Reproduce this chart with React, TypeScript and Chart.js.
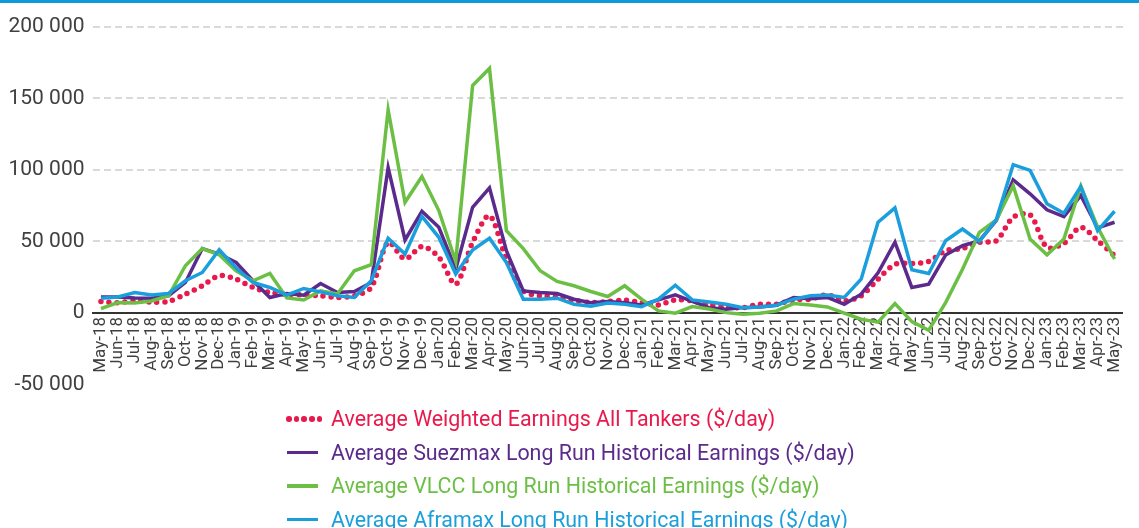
import React, { useEffect, useRef } from "react";
import { Chart, registerables } from "chart.js";

Chart.register(...registerables);

const months = [
  "May-18", "Jun-18", "Jul-18", "Aug-18", "Sep-18", "Oct-18", "Nov-18", "Dec-18",
  "Jan-19", "Feb-19", "Mar-19", "Apr-19", "May-19", "Jun-19", "Jul-19", "Aug-19", "Sep-19", "Oct-19", "Nov-19", "Dec-19",
  "Jan-20", "Feb-20", "Mar-20", "Apr-20", "May-20", "Jun-20", "Jul-20", "Aug-20", "Sep-20", "Oct-20", "Nov-20", "Dec-20",
  "Jan-21", "Feb-21", "Mar-21", "Apr-21", "May-21", "Jun-21", "Jul-21", "Aug-21", "Sep-21", "Oct-21", "Nov-21", "Dec-21",
  "Jan-22", "Feb-22", "Mar-22", "Apr-22", "May-22", "Jun-22", "Jul-22", "Aug-22", "Sep-22", "Oct-22", "Nov-22", "Dec-22",
  "Jan-23", "Feb-23", "Mar-23", "Apr-23", "May-23",
];

const weightedAll = [
  8000, 7200, 8400, 7600, 8000, 13100, 19000, 26000,
  23600, 17800, 14300, 13000, 12600, 12000, 10800, 12000, 17800, 49400, 37700, 46500,
  39000, 20100, 49400, 68000, 37700, 15400, 12000, 11200, 8900, 7200, 8000, 8900,
  7200, 5600, 9100, 8400, 5600, 4200, 3700, 6100, 6100, 9100, 9600, 12600,
  8400, 12000, 23600, 34000, 34600, 36000, 43500, 45100, 49400, 50500, 66900, 68600,
  45800, 48700, 59900, 50500, 40000,
];

const suezmax = [
  11200, 11200, 10500, 10300, 12000, 21300, 45000, 41200,
  35300, 22500, 10800, 13500, 12400, 20600, 14300, 15000, 21300, 101600, 51000, 71100,
  59900, 30600, 73900, 87500, 43500, 15400, 14300, 13600, 9600, 7200, 8000, 7200,
  5600, 9100, 12600, 8000, 3700, 2600, 3700, 4200, 5400, 10800, 10000, 10800,
  6100, 13100, 28000, 49500, 17800, 20100, 40500, 47000, 50500, 64600, 93100, 83300,
  72100, 67400, 82100, 59500, 63400,
];

const vlcc = [
  3000, 7200, 7000, 8400, 12000, 33000, 45000, 40700,
  29500, 22500, 27600, 10500, 9000, 15400, 13300, 29500, 33700, 142000, 77400, 95400,
  71600, 36000, 159000, 171000, 57500, 45000, 29500, 22000, 19000, 15000, 11500, 19000,
  9600, 1400, -200, 4400, 2800, 200, -900, -200, 1400, 6500, 5600, 4200,
  -200, -4400, -6500, 6500, -6100, -12100, 7200, 30600, 56400, 65000, 89000, 51700,
  40700, 51700, 88700, 59900, 37700,
];

const aframax = [
  10300, 11200, 14300, 12600, 13600, 22500, 28300, 44200,
  31400, 21300, 17800, 12400, 17100, 14700, 12000, 10800, 22500, 52200, 41200, 67600,
  52900, 27200, 44000, 52200, 35300, 9600, 9600, 10300, 6100, 4700, 7000, 6100,
  4400, 9600, 19400, 9100, 7700, 6100, 3700, 4200, 5400, 9600, 12000, 12600,
  10800, 23600, 63400, 73500, 30200, 27600, 50500, 58700, 50000, 65300, 103700, 99700,
  76300, 69700, 88400, 57600, 71100,
];

const yMin = -50000;
const yMax = 200000;
const yStep = 50000;

const RED = "#e9194b";
const PURPLE = "#5b2a8c";
const GREEN = "#6cbf45";
const BLUE = "#1b9fdc";

const legendItems = [
  { label: "Average Weighted Earnings All Tankers ($/day)", color: RED, dotted: true },
  { label: "Average Suezmax Long Run Historical Earnings ($/day)", color: PURPLE, dotted: false },
  { label: "Average VLCC Long Run Historical Earnings ($/day)", color: GREEN, dotted: false },
  { label: "Average Aframax Long Run Historical Earnings ($/day)", color: BLUE, dotted: false },
];

function fmt(v: number): string {
  const s = Math.abs(v).toString().replace(/\B(?=(\d{3})+(?!\d))/g, " ");
  return (v < 0 ? "-" : "") + s;
}

export default function App() {
  const ref = useRef<HTMLCanvasElement>(null);

  useEffect(() => {
    if (!ref.current) return;
    Chart.defaults.font.family = "Roboto";
    const chart = new Chart(ref.current, {
      type: "line",
      data: {
        labels: months,
        datasets: [
          {
            label: legendItems[0].label,
            data: weightedAll,
            borderColor: RED,
            borderWidth: 5.5,
            borderDash: [0, 8],
            borderCapStyle: "round",
            pointRadius: 0,
            tension: 0.3,
            fill: false,
            order: 4,
          },
          {
            label: legendItems[1].label,
            data: suezmax,
            borderColor: PURPLE,
            borderWidth: 3.5,
            pointRadius: 0,
            tension: 0,
            fill: false,
            order: 3,
          },
          {
            label: legendItems[2].label,
            data: vlcc,
            borderColor: GREEN,
            borderWidth: 3.5,
            pointRadius: 0,
            tension: 0,
            fill: false,
            order: 2,
          },
          {
            label: legendItems[3].label,
            data: aframax,
            borderColor: BLUE,
            borderWidth: 3.5,
            pointRadius: 0,
            tension: 0,
            fill: false,
            order: 1,
          },
        ],
      },
      options: {
        animation: false,
        responsive: false,
        maintainAspectRatio: false,
        layout: { padding: { top: 27, bottom: 12, left: 0, right: 6 } },
        plugins: {
          legend: { display: false },
          tooltip: { enabled: false },
        },
        scales: {
          x: {
            position: { y: 0 } as any,
            offset: true,
            grid: { display: false, drawTicks: false },
            border: { display: true, color: "#333333", width: 2 },
            ticks: {
              autoSkip: false,
              maxRotation: 90,
              minRotation: 90,
              color: "#404040",
              padding: 4,
              font: { size: 17, family: "Roboto" },
            },
          },
          y: {
            min: yMin,
            max: yMax,
            afterFit: (scale: any) => {
              scale.width = 92.5;
            },
            grid: {
              drawTicks: false,
              lineWidth: 2,
              color: (ctx: any) => {
                const v = ctx.tick ? ctx.tick.value : 0;
                if (v === 0 || v === yMin) return "rgba(0,0,0,0)";
                return "#d9d9d9";
              },
            },
            border: { display: false, dash: [7, 4] },
            ticks: {
              stepSize: yStep,
              color: "#404040",
              padding: 8,
              font: { size: 21, family: "Roboto" },
              callback: (v: any) => fmt(Number(v)),
            },
          },
        },
      },
    });
    return () => chart.destroy();
  }, []);

  return (
    <div
      style={{
        position: "fixed",
        left: 0,
        top: 0,
        width: 1139,
        height: 528,
        background: "#ffffff",
        overflow: "hidden",
        fontFamily: "Roboto",
      }}
    >
      <canvas
        ref={ref}
        width={1139}
        height={405}
        style={{ position: "absolute", left: 0, top: 0, width: 1139, height: 405 }}
      />
      <div
        style={{ position: "absolute", left: 0, top: 0, width: 1139, height: 3, background: "#0a9bd8" }}
      />
      <div style={{ position: "absolute", left: 286, top: 402 }}>
        {legendItems.map((it) => (
          <div
            key={it.label}
            style={{ display: "flex", alignItems: "center", height: 33.5, whiteSpace: "nowrap" }}
          >
            <div style={{ width: 45, display: "flex", alignItems: "center" }}>
              {it.dotted ? (
                <div style={{ display: "flex", gap: 2.2 }}>
                  {[0, 1, 2, 3, 4].map((k) => (
                    <span
                      key={k}
                      style={{
                        display: "inline-block",
                        width: 5.5,
                        height: 5.5,
                        borderRadius: "50%",
                        background: it.color,
                      }}
                    />
                  ))}
                </div>
              ) : (
                <div style={{ width: 31, height: 3.5, marginLeft: 1, background: it.color }} />
              )}
            </div>
            <span style={{ color: it.color, fontSize: 21.4, lineHeight: "33.5px" }}>{it.label}</span>
          </div>
        ))}
      </div>
    </div>
  );
}
